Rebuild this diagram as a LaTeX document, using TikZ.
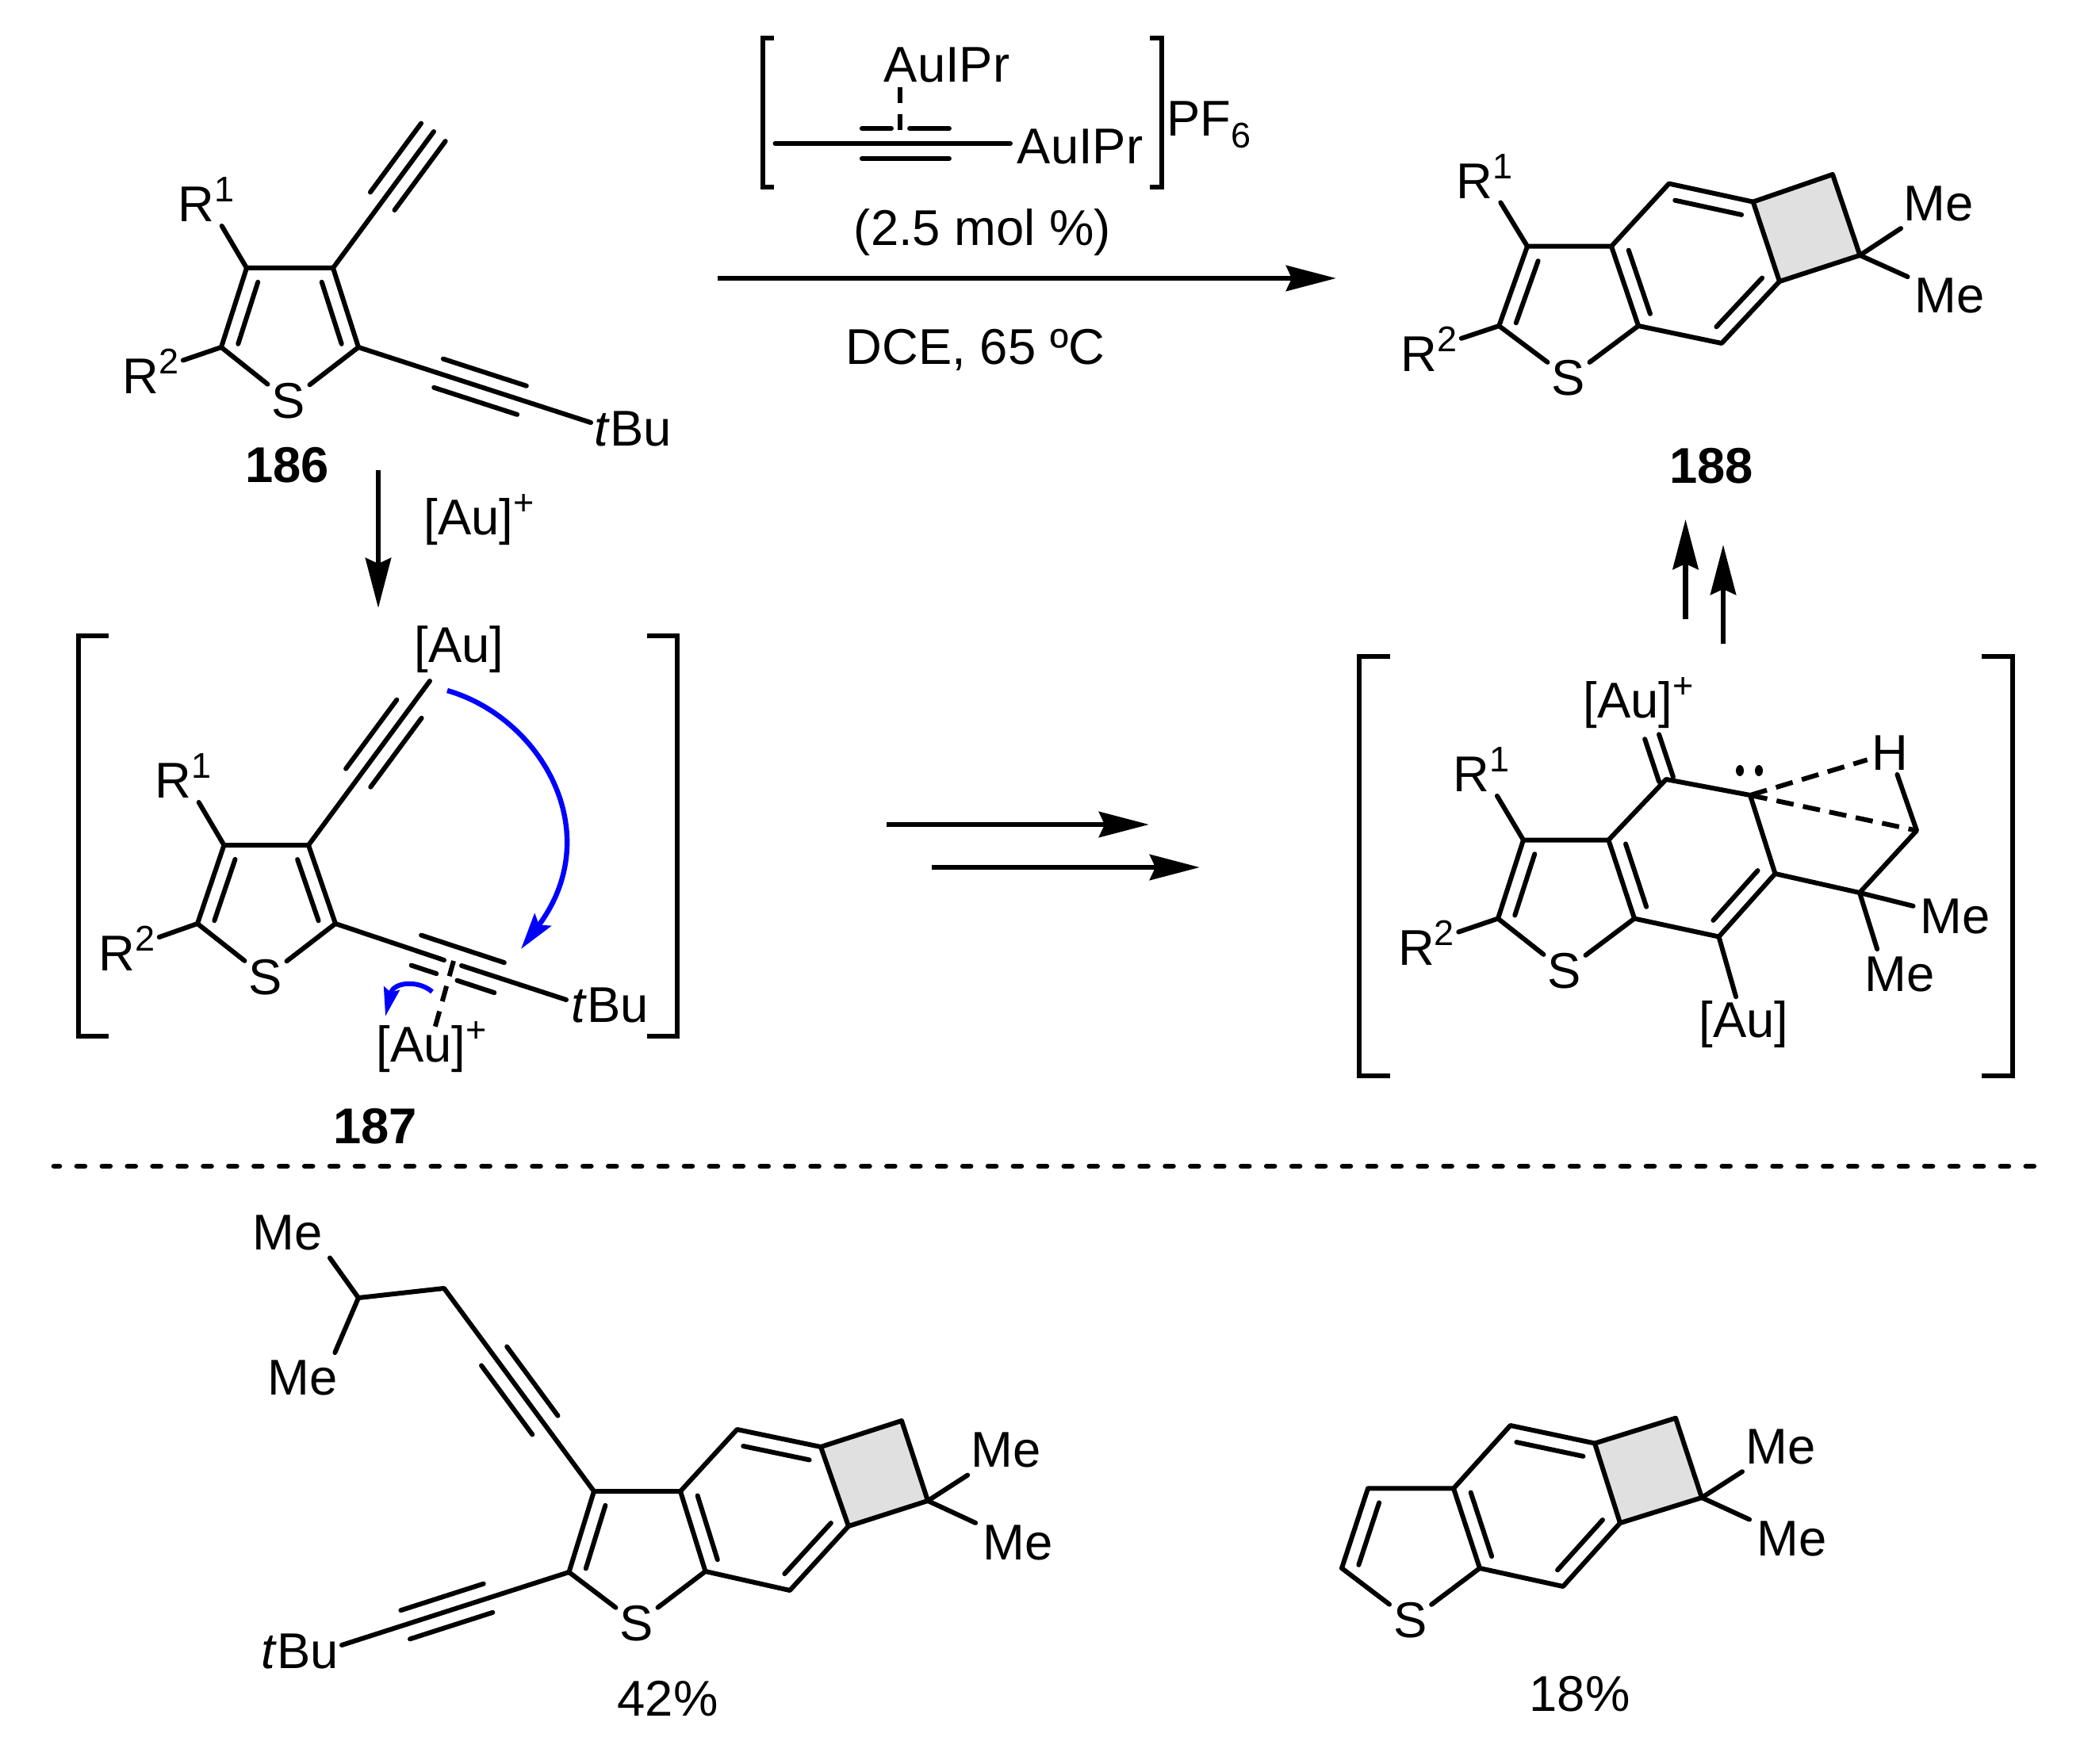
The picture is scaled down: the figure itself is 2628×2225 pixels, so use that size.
\documentclass[tikz,border=0pt]{standalone}
\usepackage{fontspec}
\setmainfont{Liberation Sans}
\usetikzlibrary{arrows.meta,calc}
\definecolor{cbgray}{HTML}{E0E0E0}
\definecolor{curlyblue}{HTML}{0000FF}
\newcommand{\up}[1]{\raisebox{12.5pt}{\fontsize{22.5}{24}\selectfont #1}}
\newcommand{\dn}[1]{\raisebox{-7.5pt}{\fontsize{22.5}{24}\selectfont #1}}
\newcommand{\innerbond}[5]{\draw[bond] ($(#1)!#3!(#2)!#5!90:(#2)$) -- ($(#1)!#4!(#2)!#5!90:(#2)$);}
\tikzset{
bond/.style={line width=3pt, line cap=round, line join=round},
hashbond/.style={line width=3pt, dash pattern=on 11pt off 6pt},
brack/.style={line width=3.2pt, line join=miter},
txt/.style={font=\fontsize{31.7}{36}\selectfont, inner sep=2.5pt, anchor=base, yshift=-0.8pt},
melab/.style={txt, inner sep=4.5pt},
rxn/.style={line width=3.4pt, -{Stealth[length=31.5pt,width=16pt,inset=3.5pt]}},
curly/.style={line width=3.2pt, curlyblue, -{Stealth[length=23pt,width=13pt,inset=4pt]}},
curlysm/.style={line width=3pt, curlyblue, -{Stealth[length=18pt,width=10pt,inset=2.5pt]}}
}

\begin{document}
\begin{tikzpicture}[x=0.5pt, y=-0.5pt]
	\useasboundingbox (0,0) rectangle (2628,2225);

	\coordinate (sa) at (311,338);
	\coordinate (sb) at (420,338);
	\coordinate (sc) at (279,438);
	\coordinate (sd) at (452,438);
	\coordinate (se) at (547,166);
	\coordinate (sf) at (745,533);
	\node[txt] (ss) at (364,526) {S};
	\node[txt] (sr1) at (260,278) {R\up{1}};
	\node[txt] (sr2) at (190,495) {R\up{2}};
	\node[txt] (stbu) at (798,561) {\textit{t}Bu};
	\node[txt] (sname) at (362,607) {\textbf{186}};
	\draw[bond] (ss) -- (sc) -- (sa) -- (sb) -- (sd) -- (ss);
	\draw[bond] (sa) -- (sr1);
	\draw[bond] (sc) -- (sr2);
	\draw[bond] (sb) -- (se);
	\draw[bond] (sd) -- (sf);
	\innerbond{sa}{sc}{.12}{.9}{9.5pt}
	\innerbond{sb}{sd}{.12}{.9}{-9.5pt}
	\innerbond{sb}{se}{.49}{.995}{9.5pt}
	\innerbond{sb}{se}{.49}{.995}{-9.5pt}
	\innerbond{sd}{sf}{.345}{.703}{9.5pt}
	\innerbond{sd}{sf}{.345}{.703}{-9.5pt}

	\coordinate (ara) at (477,593);
	\coordinate (arb) at (477,767);
	\draw[rxn] (ara) -- (arb);
	\node[txt] (auplus) at (604,673) {[Au]\up{+}};

	\coordinate (cla) at (976,48);
	\coordinate (clb) at (962,48);
	\coordinate (clc) at (962,236);
	\coordinate (cld) at (976,236);
	\coordinate (cra) at (1450,48);
	\coordinate (crb) at (1465,48);
	\coordinate (crc) at (1465,236);
	\coordinate (crd) at (1450,236);
	\draw[brack] (cla) -- (clb) -- (clc) -- (cld);
	\draw[brack] (cra) -- (crb) -- (crc) -- (crd);
	\node[txt] (auipra) at (1194,102) {AuIPr};
	\node[txt] (auiprb) at (1362,205) {AuIPr};
	\node[txt, anchor=base west] (pfsix) at (1466,170) {PF\dn{6}};
	\coordinate (ca) at (977.5,181);
	\coordinate (cb) at (1274,181);
	\coordinate (cda) at (1135,110);
	\coordinate (cdb) at (1135,165);
	\draw[bond] (ca) -- (cb);
	\innerbond{ca}{cb}{.369}{.494}{9.5pt}
	\innerbond{ca}{cb}{.572}{.74}{9.5pt}
	\innerbond{ca}{cb}{.369}{.74}{-9.5pt}
	\draw[line width=3pt, dash pattern=on 10pt off 7pt] (cda) -- (cdb);
	\node[txt] (load) at (1239,308) {(2.5 mol \%)};
	\node[txt] (cond) at (1230,458) {DCE, 65 ºC};
	\coordinate (ma) at (905,351);
	\coordinate (mb) at (1685,351);
	\draw[rxn] (ma) -- (mb);

	\coordinate (pa) at (1926,310.7);
	\coordinate (pb) at (2032,310.7);
	\coordinate (pc) at (1890.3,411);
	\coordinate (pd) at (2066,411);
	\coordinate (pe) at (2104.6,231.6);
	\coordinate (pf) at (2210.7,254.6);
	\coordinate (pg) at (2244,355);
	\coordinate (ph) at (2171,433);
	\coordinate (pi) at (2311,220);
	\coordinate (pj) at (2345.4,322);
	\fill[cbgray] (pf) -- (pi) -- (pj) -- (pg) -- cycle;
	\node[txt] (ps) at (1978,497) {S};
	\node[txt] (pr1) at (1872,248.5) {R\up{1}};
	\node[txt] (pr2) at (1802,467) {R\up{2}};
	\node[melab] (pma) at (2445,276.5) {Me};
	\node[melab] (pmb) at (2459,393) {Me};
	\node[txt] (pname) at (2158,608) {\textbf{188}};
	\draw[bond] (ps) -- (pc) -- (pa) -- (pb) -- (pd) -- (ps);
	\draw[bond] (pb) -- (pe) -- (pf) -- (pg) -- (ph) -- (pd);
	\draw[bond] (pf) -- (pi) -- (pj) -- (pg);
	\draw[bond] (pa) -- (pr1);
	\draw[bond] (pc) -- (pr2);
	\draw[bond] (pj) -- (pma);
	\draw[bond] (pj) -- (pmb);
	\innerbond{pa}{pc}{.12}{.9}{9.5pt}
	\innerbond{pb}{pd}{.11}{.91}{9.5pt}
	\innerbond{pe}{pf}{.11}{.9}{-9.5pt}
	\innerbond{pg}{ph}{.11}{.9}{-9.5pt}

	\coordinate (upaa) at (2125.5,781);
	\coordinate (upab) at (2125.5,655);
	\coordinate (upba) at (2173,812);
	\coordinate (upbb) at (2173,687);
	\draw[rxn] (upaa) -- (upab);
	\draw[rxn] (upba) -- (upbb);

	\coordinate (ila) at (137,802);
	\coordinate (ilb) at (99,802);
	\coordinate (ilc) at (99,1307);
	\coordinate (ild) at (137,1307);
	\coordinate (ira) at (816,802);
	\coordinate (irb) at (854,802);
	\coordinate (irc) at (854,1307);
	\coordinate (ird) at (816,1307);
	\draw[brack] (ila) -- (ilb) -- (ilc) -- (ild);
	\draw[brack] (ira) -- (irb) -- (irc) -- (ird);
	\coordinate (ia) at (282.5,1066);
	\coordinate (ib) at (389,1066);
	\coordinate (ic) at (249,1165);
	\coordinate (id) at (423,1165);
	\coordinate (ie) at (542,859);
	\coordinate (if) at (714,1261);
	\coordinate (iga) at (560,1211);
	\coordinate (igb) at (582,1218);
	\coordinate (ida) at (572,1212);
	\coordinate (idb) at (548.5,1296);
	\node[txt] (is) at (335,1253) {S};
	\node[txt] (ir1) at (231,1005) {R\up{1}};
	\node[txt] (ir2) at (160,1223) {R\up{2}};
	\node[txt] (itbu) at (769,1288) {\textit{t}Bu};
	\node[txt] (iau) at (579,834) {[Au]};
	\node[txt] (iaup) at (544,1338) {[Au]\up{+}};
	\node[txt] (iname) at (473,1441) {\textbf{187}};
	\draw[bond] (is) -- (ic) -- (ia) -- (ib) -- (id) -- (is);
	\draw[bond] (ia) -- (ir1);
	\draw[bond] (ic) -- (ir2);
	\draw[bond] (ib) -- (ie);
	\draw[bond] (id) -- (iga);
	\draw[bond] (igb) -- (if);
	\innerbond{ia}{ic}{.12}{.9}{9.5pt}
	\innerbond{ib}{id}{.12}{.9}{-9.5pt}
	\innerbond{ib}{ie}{.41}{.83}{9.7pt}
	\innerbond{ib}{ie}{.41}{.83}{-9.7pt}
	\innerbond{id}{if}{.35}{.71}{10pt}
	\innerbond{id}{if}{.35}{.459}{-10pt}
	\innerbond{id}{if}{.549}{.71}{-10pt}
	\draw[line width=3pt, dash pattern=on 10pt off 6.5pt] (ida) -- (idb);
	\coordinate (cua) at (564,871);
	\coordinate (cub) at (657,1197);
	\draw[curly] (cua) .. controls (682,905) and (767,1050) .. (cub);
	\coordinate (cva) at (545,1251);
	\coordinate (cvb) at (486,1282);
	\draw[curlysm] (cva) .. controls (528,1236) and (496,1238) .. (cvb);

	\coordinate (eaa) at (1118,1040);
	\coordinate (eab) at (1449,1040);
	\coordinate (eba) at (1175,1094);
	\coordinate (ebb) at (1513,1094);
	\draw[rxn] (eaa) -- (eab);
	\draw[rxn] (eba) -- (ebb);

	\coordinate (kla) at (1753,828);
	\coordinate (klb) at (1714,828);
	\coordinate (klc) at (1714,1357);
	\coordinate (kld) at (1753,1357);
	\coordinate (kra) at (2499,828);
	\coordinate (krb) at (2538,828);
	\coordinate (krc) at (2538,1357);
	\coordinate (krd) at (2499,1357);
	\draw[brack] (kla) -- (klb) -- (klc) -- (kld);
	\draw[brack] (kra) -- (krb) -- (krc) -- (krd);
	\coordinate (ka) at (1921,1059.5);
	\coordinate (kb) at (2028.4,1059.5);
	\coordinate (kc) at (1889,1158.6);
	\coordinate (kd) at (2061,1158.6);
	\coordinate (ke) at (2101,983);
	\coordinate (ket) at (2083,929);
	\coordinate (kf) at (2207,1003);
	\coordinate (kg) at (2238.5,1102);
	\coordinate (kh) at (2167.5,1181.5);
	\coordinate (kq) at (2345,1126);
	\coordinate (kj) at (2417,1047.6);
	\node[txt] (ks) at (1973,1245) {S};
	\node[txt] (kr1) at (1868,997) {R\up{1}};
	\node[txt] (kr2) at (1798.5,1216) {R\up{2}};
	\node[txt] (khh) at (2383,970) {H};
	\node[melab] (kma) at (2466,1176) {Me};
	\node[melab] (kmb) at (2395.5,1248.5) {Me};
	\node[txt] (kaup) at (2066,904) {[Au]\up{+}};
	\node[txt] (kau) at (2199,1307) {[Au]};
	\draw[bond] (ks) -- (kc) -- (ka) -- (kb) -- (kd) -- (ks);
	\draw[bond] (kb) -- (ke) -- (kf) -- (kg) -- (kh) -- (kd);
	\draw[bond] (kg) -- (kq) -- (kj) -- (khh);
	\draw[bond] (ka) -- (kr1);
	\draw[bond] (kc) -- (kr2);
	\draw[bond] (kq) -- (kma);
	\draw[bond] (kq) -- (kmb.132);
	\draw[bond] (kh) -- (kau);
	\innerbond{ka}{kc}{.12}{.9}{9.5pt}
	\innerbond{kb}{kd}{.11}{.91}{9.5pt}
	\innerbond{kg}{kh}{.11}{.9}{-9.5pt}
	\innerbond{ke}{ket}{0}{.995}{4.7pt}
	\innerbond{ke}{ket}{0}{.995}{-4.7pt}
	\draw[hashbond] (kf) -- (khh);
	\draw[hashbond] (kf) -- (kj);
	\fill ($(kf)+(-13,-31)$) ellipse [x radius=2.5pt, y radius=3.5pt];
	\fill ($(kf)+(11,-31)$) ellipse [x radius=2.5pt, y radius=3.5pt];

	\coordinate (dota) at (68,1471);
	\coordinate (dotb) at (2565,1471);
	\draw[line width=3.3pt, line cap=round, dash pattern=on 5pt off 10.96pt, dash phase=1.5pt] (dota) -- (dotb);

	\coordinate (ya) at (749,1881);
	\coordinate (yb) at (858,1881);
	\coordinate (yc) at (717.5,1983);
	\coordinate (yd) at (889.5,1982);
	\coordinate (ye) at (929.5,1803);
	\coordinate (yf) at (1035,1825);
	\coordinate (yg) at (1070,1925);
	\coordinate (yh) at (996,2006);
	\coordinate (yi) at (1137,1792);
	\coordinate (yj) at (1170,1893);
	\coordinate (yk) at (560,1625);
	\coordinate (yl) at (452,1637);
	\coordinate (ym) at (431,2075);
	\fill[cbgray] (yf) -- (yi) -- (yj) -- (yg) -- cycle;
	\node[txt] (ys) at (803,2068) {S};
	\node[melab] (yma) at (1269,1849) {Me};
	\node[melab] (ymb) at (1283.5,1965.5) {Me};
	\node[melab] (ymc) at (362.5,1575) {Me};
	\node[melab] (ymd) at (382,1757.5) {Me};
	\node[txt] (ytbu) at (378,2103) {\textit{t}Bu};
	\node[txt] (yyield) at (842,2163) {42\%};
	\draw[bond] (ys) -- (yc) -- (ya) -- (yb) -- (yd) -- (ys);
	\draw[bond] (yb) -- (ye) -- (yf) -- (yg) -- (yh) -- (yd);
	\draw[bond] (yf) -- (yi) -- (yj) -- (yg);
	\draw[bond] (yj) -- (yma);
	\draw[bond] (yj) -- (ymb);
	\draw[bond] (ya) -- (yk) -- (yl) -- (ymc.south east);
	\draw[bond] (yl) -- (ymd.38);
	\draw[bond] (yc) -- (ym);
	\innerbond{ya}{yc}{.12}{.9}{9.5pt}
	\innerbond{yb}{yd}{.11}{.91}{9.5pt}
	\innerbond{ye}{yf}{.11}{.9}{-9.5pt}
	\innerbond{yg}{yh}{.11}{.9}{-9.5pt}
	\innerbond{yk}{ya}{.334}{.674}{10pt}
	\innerbond{yk}{ya}{.334}{.674}{-10pt}
	\innerbond{yc}{ym}{.356}{.72}{9.5pt}
	\innerbond{yc}{ym}{.356}{.72}{-9.5pt}

	\coordinate (za) at (1725,1877.4);
	\coordinate (zb) at (1833,1877.4);
	\coordinate (zc) at (1692,1978);
	\coordinate (zd) at (1866,1978);
	\coordinate (ze) at (1904.6,1798);
	\coordinate (zf) at (2011,1820.5);
	\coordinate (zg) at (2043,1921);
	\coordinate (zh) at (1971,2001);
	\coordinate (zi) at (2113,1788.7);
	\coordinate (zj) at (2146,1889);
	\fill[cbgray] (zf) -- (zi) -- (zj) -- (zg) -- cycle;
	\node[txt] (zs) at (1778.6,2064) {S};
	\node[melab] (zma) at (2246,1844.6) {Me};
	\node[melab] (zmb) at (2259.5,1961) {Me};
	\node[txt] (zyield) at (1992,2157) {18\%};
	\draw[bond] (zs) -- (zc) -- (za) -- (zb) -- (zd) -- (zs);
	\draw[bond] (zb) -- (ze) -- (zf) -- (zg) -- (zh) -- (zd);
	\draw[bond] (zf) -- (zi) -- (zj) -- (zg);
	\draw[bond] (zj) -- (zma);
	\draw[bond] (zj) -- (zmb);
	\innerbond{za}{zc}{.12}{.9}{9.5pt}
	\innerbond{zb}{zd}{.11}{.91}{9.5pt}
	\innerbond{ze}{zf}{.11}{.9}{-9.5pt}
	\innerbond{zg}{zh}{.11}{.9}{-9.5pt}
\end{tikzpicture}
\end{document}
